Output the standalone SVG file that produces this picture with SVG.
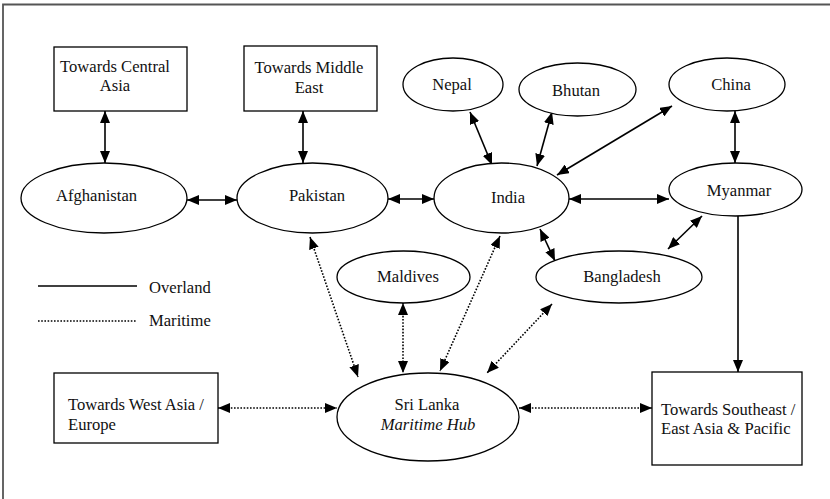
<svg xmlns="http://www.w3.org/2000/svg" width="830" height="499" viewBox="0 0 830 499">
<style>
.node{fill:#fff;stroke:#000;stroke-width:1.3}
text{font-family:'Liberation Serif','Times New Roman',serif;font-size:16.6px;fill:#111}
.c{text-anchor:middle}
.solid{stroke:#000;stroke-width:1.6;fill:none}
.dot{stroke:#000;stroke-width:1.6;fill:none;stroke-dasharray:1.6 1.6}
.frame{stroke:#555;stroke-width:1.8;fill:none}
</style>
<defs>
<marker id="ah" markerUnits="userSpaceOnUse" markerWidth="12" markerHeight="10" viewBox="0 0 12 10" refX="12" refY="5" orient="auto-start-reverse">
<path d="M0,0 L12,5 L0,10 z" fill="#000"/>
</marker>
</defs>
<rect width="830" height="499" fill="#fff"/>
<path class="frame" d="M3,499 V4.5 H830"/>

<g id="connectors">
<line class="solid" x1="105" y1="111" x2="105" y2="163" marker-start="url(#ah)" marker-end="url(#ah)"/>
<line class="solid" x1="303" y1="111" x2="303" y2="163" marker-start="url(#ah)" marker-end="url(#ah)"/>
<line class="solid" x1="187" y1="200" x2="237" y2="200" marker-start="url(#ah)" marker-end="url(#ah)"/>
<line class="solid" x1="388" y1="199" x2="434" y2="199" marker-start="url(#ah)" marker-end="url(#ah)"/>
<line class="solid" x1="569" y1="199" x2="669" y2="199" marker-start="url(#ah)" marker-end="url(#ah)"/>
<line class="solid" x1="470" y1="112" x2="492" y2="165" marker-start="url(#ah)" marker-end="url(#ah)"/>
<line class="solid" x1="552" y1="112" x2="537" y2="166" marker-start="url(#ah)" marker-end="url(#ah)"/>
<line class="solid" x1="672" y1="106" x2="557" y2="175" marker-start="url(#ah)" marker-end="url(#ah)"/>
<line class="solid" x1="735" y1="111" x2="735" y2="163" marker-start="url(#ah)" marker-end="url(#ah)"/>
<line class="solid" x1="702" y1="216" x2="668" y2="249" marker-start="url(#ah)" marker-end="url(#ah)"/>
<line class="solid" x1="540" y1="229" x2="555" y2="261" marker-start="url(#ah)" marker-end="url(#ah)"/>
<line class="solid" x1="738" y1="216" x2="738" y2="372" marker-end="url(#ah)"/>
<line class="dot" x1="310" y1="237" x2="358" y2="377" marker-start="url(#ah)" marker-end="url(#ah)"/>
<line class="dot" x1="500" y1="236" x2="440" y2="371" marker-start="url(#ah)" marker-end="url(#ah)"/>
<line class="dot" x1="403" y1="303" x2="403" y2="373" marker-start="url(#ah)" marker-end="url(#ah)"/>
<line class="dot" x1="552" y1="304" x2="487" y2="373" marker-start="url(#ah)" marker-end="url(#ah)"/>
<line class="dot" x1="218" y1="408" x2="337" y2="408" marker-start="url(#ah)" marker-end="url(#ah)"/>
<line class="dot" x1="519" y1="408" x2="652" y2="408" marker-start="url(#ah)" marker-end="url(#ah)"/>
</g>

<g id="legend">
<line class="solid" x1="38" y1="286" x2="137" y2="286"/>
<text x="149" y="293">Overland</text>
<line class="dot" x1="38" y1="321" x2="137" y2="321"/>
<text x="149" y="326">Maritime</text>
</g>

<g id="central-asia">
<rect class="node" x="54" y="47" width="133" height="64"/>
<text class="c" x="115" y="72">Towards Central</text>
<text class="c" x="115" y="91">Asia</text>
</g>
<g id="middle-east">
<rect class="node" x="244" y="46" width="133" height="65"/>
<text class="c" x="309" y="73">Towards Middle</text>
<text class="c" x="309" y="93">East</text>
</g>
<g id="nepal">
<ellipse class="node" cx="453" cy="84.5" rx="50" ry="26.5"/>
<text class="c" x="452" y="90">Nepal</text>
</g>
<g id="bhutan">
<ellipse class="node" cx="577.5" cy="89.5" rx="58.5" ry="26.5"/>
<text class="c" x="576" y="96">Bhutan</text>
</g>
<g id="china">
<ellipse class="node" cx="727" cy="84.5" rx="58" ry="26.5"/>
<text class="c" x="731" y="90">China</text>
</g>
<g id="afghanistan">
<ellipse class="node" cx="104" cy="198" rx="83" ry="35"/>
<text class="c" x="96.5" y="201">Afghanistan</text>
</g>
<g id="pakistan">
<ellipse class="node" cx="312.5" cy="198" rx="75.5" ry="35"/>
<text class="c" x="317" y="201">Pakistan</text>
</g>
<g id="india">
<ellipse class="node" cx="501.5" cy="198" rx="67.5" ry="35"/>
<text class="c" x="508" y="203">India</text>
</g>
<g id="myanmar">
<ellipse class="node" cx="735.5" cy="189.5" rx="66.5" ry="26.5"/>
<text class="c" x="739" y="196">Myanmar</text>
</g>
<g id="maldives">
<ellipse class="node" cx="403.5" cy="277" rx="66.5" ry="26"/>
<text class="c" x="408" y="282">Maldives</text>
</g>
<g id="bangladesh">
<ellipse class="node" cx="619" cy="277" rx="83" ry="26"/>
<text class="c" x="622" y="282">Bangladesh</text>
</g>
<g id="west-asia">
<rect class="node" x="54" y="373" width="164" height="70"/>
<text x="68" y="410">Towards West Asia /</text>
<text x="68" y="430">Europe</text>
</g>
<g id="sri-lanka">
<ellipse class="node" cx="428" cy="417" rx="91" ry="44"/>
<text class="c" x="427" y="410">Sri Lanka</text>
<text class="c" x="428" y="430" font-style="italic">Maritime Hub</text>
</g>
<g id="southeast">
<rect class="node" x="652" y="372" width="150" height="93"/>
<text x="661" y="415">Towards Southeast /</text>
<text x="661" y="434">East Asia &amp; Pacific</text>
</g>
</svg>
